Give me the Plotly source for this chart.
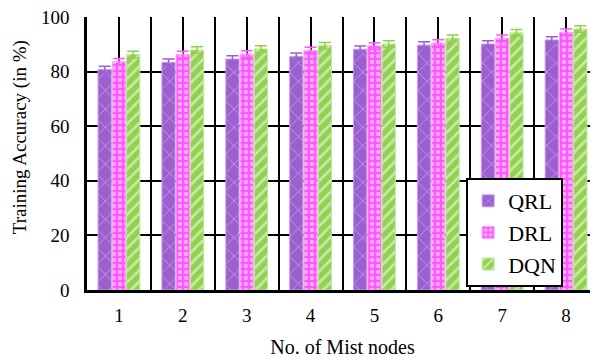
import plotly.graph_objects as go

nodes = [1, 2, 3, 4, 5, 6, 7, 8]
node_labels = ["1", "2", "3", "4", "5", "6", "7", "8"]
qrl = [80.8, 83.4, 84.6, 85.6, 88.2, 89.7, 90.1, 91.6]
drl = [83.6, 86.3, 86.4, 87.7, 89.4, 90.5, 92.2, 94.4]
dqn = [86.3, 87.9, 88.3, 89.5, 90.1, 92.2, 94.2, 95.6]
err = [1.2] * 8

FONT = "Times New Roman, Liberation Serif, DejaVu Serif, serif"

series = [
    ("QRL", qrl, "#9b5fd0", "#c4a0e6", "x", 13, 0.1),
    ("DRL", drl, "#ff55ff", "#ff9cff", ".", 6, 0.45),
    ("DQN", dqn, "#92d050", "#c0e89a", "/", 8, 0.35),
]

fig = go.Figure()
for name, vals, col, edge, shape, size, sol in series:
    fig.add_trace(go.Bar(
        x=nodes, y=vals, name=name,
        marker=dict(color=col, line=dict(color=edge, width=1),
                    pattern=dict(shape=shape, size=size, solidity=sol,
                                 fgcolor="white", bgcolor=col, fillmode="overlay")),
        error_y=dict(type="data", array=err, visible=True, color=col,
                     thickness=1.5, width=6),
    ))

fig.update_layout(
    width=590, height=352,
    margin=dict(l=79, r=0, t=9, b=70),
    paper_bgcolor="white", plot_bgcolor="white",
    barmode="group", bargap=0.33, bargroupgap=0.07,
    font=dict(family=FONT, size=19, color="black"),
    showlegend=True,
    legend=dict(x=0.742, y=0.41, xanchor="left", yanchor="top",
                bgcolor="white", bordercolor="black", borderwidth=2,
                font=dict(family=FONT, size=22, color="black"),
                tracegroupgap=0),
    xaxis=dict(
        type="linear", range=[0.5, 8.5],
        tickmode="array", tickvals=nodes, ticktext=node_labels,
        tickfont=dict(family=FONT, size=19, color="black"),
        showgrid=True, gridcolor="black", gridwidth=2,
        minor=dict(tickmode="array", tickvals=[1.5, 2.5, 3.5, 4.5, 5.5, 6.5, 7.5],
                   showgrid=True, gridcolor="black", gridwidth=2, ticks=""),
        showline=True, linecolor="black", linewidth=2.5,
        ticks="", zeroline=False, ticklabelstandoff=6,
        title=dict(text="No. of Mist nodes", font=dict(family=FONT, size=20), standoff=16),
    ),
    yaxis=dict(
        range=[0, 100], tickmode="array", tickvals=[0, 20, 40, 60, 80, 100],
        ticktext=["0", "20", "40", "60", "80", "100"],
        tickfont=dict(family=FONT, size=19, color="black"),
        ticklabeloverflow="allow",
        showgrid=True, gridcolor="black", gridwidth=2,
        showline=True, linecolor="black", linewidth=2.5,
        ticks="", zeroline=False, ticklabelstandoff=11,
    ),
    annotations=[dict(
        text="Training Accuracy (in %)", textangle=-90,
        xref="paper", yref="paper", x=-0.131, y=0.56,
        xanchor="center", yanchor="middle", showarrow=False,
        font=dict(family=FONT, size=19, color="black"),
    )],
)

fig.write_html("out.html")
